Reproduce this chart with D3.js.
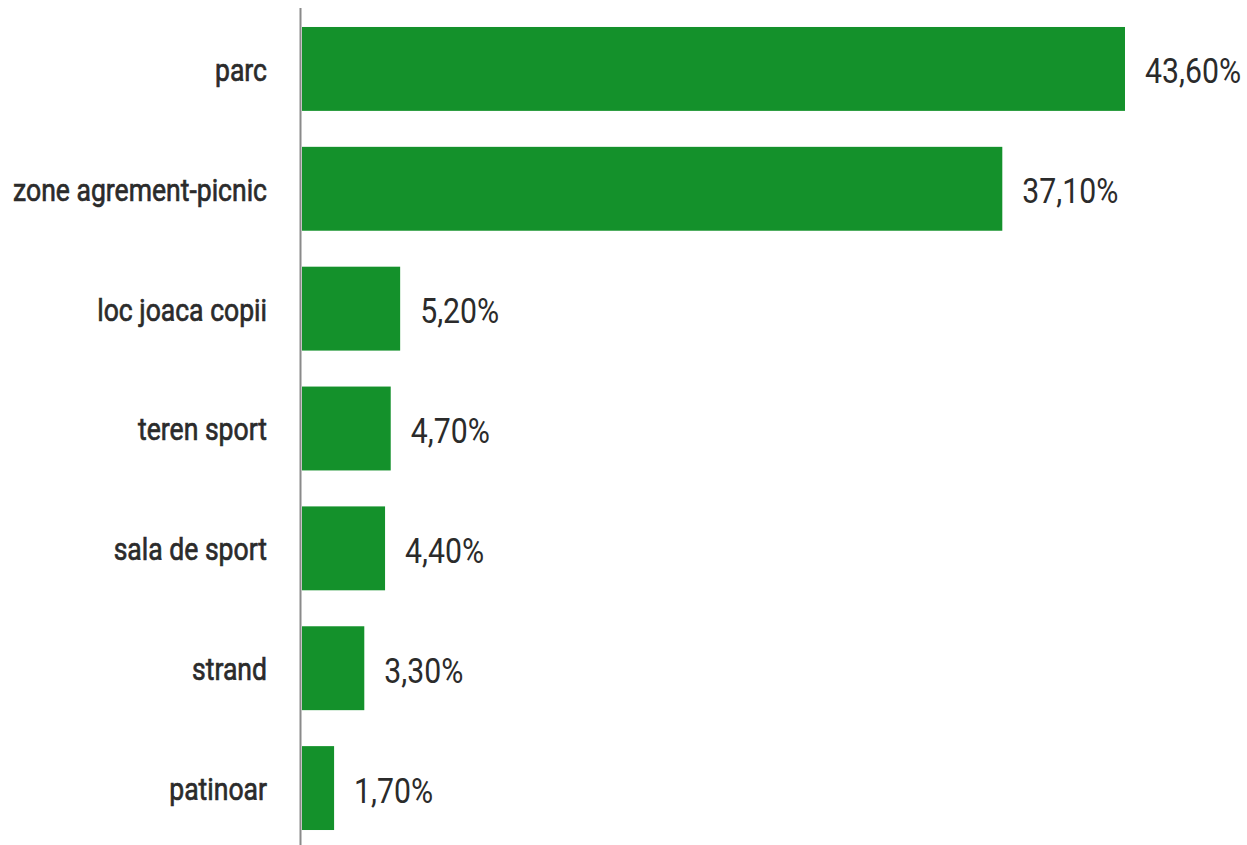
<!DOCTYPE html>
<html>
<head>
<meta charset="utf-8">
<script src="https://cdn.jsdelivr.net/npm/d3@7"></script>
<style>
  body { margin: 0; background: #fff; }
  text { font-family: Roboto, "Noto Sans", sans-serif; fill: #2b2b2b; }
</style>
</head>
<body>
<div id="chart"></div>
<script>
// categories and values (percent)
var categories = ["parc", "zone agrement-picnic", "loc joaca copii", "teren sport", "sala de sport", "strand", "patinoar"];
var values = [43.6, 37.1, 5.2, 4.7, 4.4, 3.3, 1.7];
var valueLabels = ["43,60%", "37,10%", "5,20%", "4,70%", "4,40%", "3,30%", "1,70%"];

var W = 1247, H = 845;
var x0 = 302; // left edge of the bars

var svg = d3.select("#chart")
    .append("svg")
    .attr("width", W)
    .attr("height", H);

var x = d3.scaleLinear()
    .domain([0, 43.6])
    .range([x0, 1125]);

var y = d3.scaleBand()
    .domain(categories)
    .range([9, 848])
    .paddingInner(0.3)
    .paddingOuter(0.15);

// bars
svg.selectAll("rect.bar")
    .data(values)
    .enter()
    .append("rect")
    .attr("class", "bar")
    .attr("x", x(0))
    .attr("y", function(d, i) { return y(categories[i]); })
    .attr("width", function(d) { return x(d) - x(0); })
    .attr("height", y.bandwidth())
    .attr("fill", "#14912b");

// vertical axis line
svg.append("line")
    .attr("x1", 300.5).attr("x2", 300.5)
    .attr("y1", 8).attr("y2", H)
    .attr("stroke", "#8a8a8a")
    .attr("stroke-width", 2);

// category labels (slight stroke gives a medium weight)
svg.selectAll("text.cat")
    .data(categories)
    .enter()
    .append("text")
    .attr("class", "cat")
    .attr("text-anchor", "end")
    .attr("dominant-baseline", "central")
    .attr("font-size", 32)
    .attr("stroke", "#2b2b2b")
    .attr("stroke-width", 0.7)
    .attr("transform", function(d) {
        return "translate(267," + (y(d) + y.bandwidth() / 2 + 1) + ") scale(0.83,1)";
    })
    .text(function(d) { return d; });

// value labels
svg.selectAll("text.val")
    .data(values)
    .enter()
    .append("text")
    .attr("class", "val")
    .attr("text-anchor", "start")
    .attr("dominant-baseline", "central")
    .attr("font-size", 36)
    .attr("transform", function(d, i) {
        return "translate(" + (x(d) + 20) + "," + (y(categories[i]) + y.bandwidth() / 2 + 2) + ") scale(0.84,1)";
    })
    .text(function(d, i) { return valueLabels[i]; });
</script>
</body>
</html>
